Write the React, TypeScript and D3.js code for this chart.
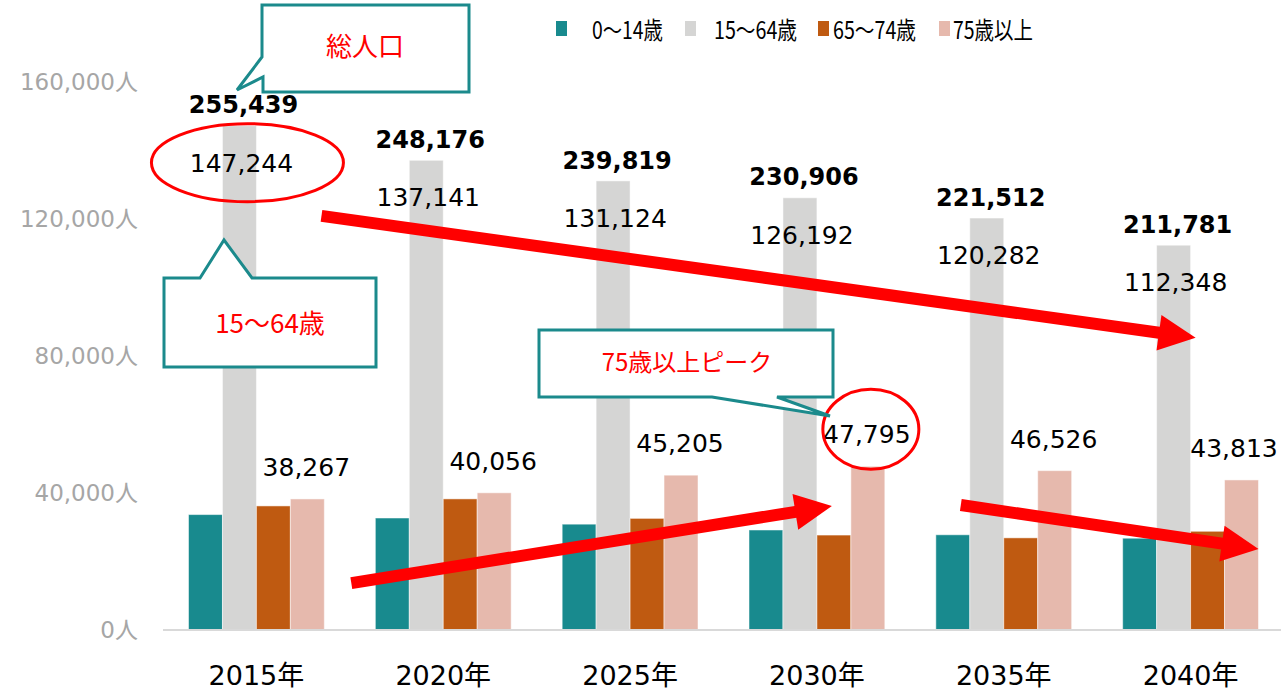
import React from "react";
import * as d3 from "d3";

const categories = ["2015年", "2020年", "2025年", "2030年", "2035年", "2040年"];
const seriesNames = ["0～14歳", "15～64歳", "65～74歳", "75歳以上"];
const age0_14 = [33700, 32700, 30900, 29200, 27800, 26800];
const age15_64 = [147244, 137141, 131124, 126192, 120282, 112348];
const age65_74 = [36228, 38279, 32590, 27719, 26904, 28820];
const age75plus = [38267, 40056, 45205, 47795, 46526, 43813];
const totals = [255439, 248176, 239819, 230906, 221512, 211781];
const yTicks = [0, 40000, 80000, 120000, 160000];

const colors = ["#188a8e", "#d5d5d4", "#bf5a11", "#e6b9ad"];
const W = 1281;
const H = 691;
const numFont = "'DejaVu Sans', 'Noto Sans CJK JP', sans-serif";
const jpFont = "'Noto Sans CJK JP', sans-serif";

export default function App() {
  const series = [age0_14, age15_64, age65_74, age75plus];
  const x = d3.scaleBand<string>().domain(categories).range([163, 1284]).paddingInner(0.273).paddingOuter(0.1365);
  const xs = d3.scaleBand<number>().domain([0, 1, 2, 3]).range([0, x.bandwidth()]);
  const y = d3.scaleLinear().domain([0, 160000]).range([630, 82]);
  const fmt = d3.format(",");

  const cx = (i: number, s: number) => (x(categories[i]) as number) + (xs(s) as number) + xs.bandwidth() / 2;

  const arrow = (x1: number, y1: number, x2: number, y2: number, key: string) => {
    const dx = x2 - x1, dy = y2 - y1;
    const len = Math.hypot(dx, dy);
    const ux = dx / len, uy = dy / len;
    const L = 37, hw = 18;
    const bx = x2 - ux * L, by = y2 - uy * L;
    const p1 = [bx - uy * hw, by + ux * hw];
    const p2 = [bx + uy * hw, by - ux * hw];
    return (
      <g key={key}>
        <line x1={x1} y1={y1} x2={bx + ux * 2} y2={by + uy * 2} stroke="#ff0000" strokeWidth={12} />
        <polygon points={`${x2},${y2} ${p1[0]},${p1[1]} ${p2[0]},${p2[1]}`} fill="#ff0000" />
      </g>
    );
  };

  const legendSquareX = [556, 685, 818, 939];
  const legendTextX = [592, 714, 833, 953];
  const legendTextW = [71, 83, 83, 80];

  const teal = "#1b8a8c";

  return (
    <svg width={W} height={H} style={{ position: "absolute", left: 0, top: 0, background: "#fff" }}>
      {/* y axis ticks */}
      {yTicks.map((t) => (
        <text key={t} x={138} y={y(t)} dy="0.36em" textAnchor="end" fontFamily={numFont} fontSize={23} fill="#a6a6a6">
          {fmt(t)}人
        </text>
      ))}
      {/* bars */}
      {series.map((vals, s) =>
        vals.map((v, i) => (
          <rect
            key={`${s}-${i}`}
            x={(x(categories[i]) as number) + (xs(s) as number)}
            y={y(v)}
            width={xs.bandwidth()}
            height={y(0) - y(v)}
            fill={colors[s]}
            stroke="#ffffff"
            strokeOpacity={0.5}
            strokeWidth={1}
          />
        ))
      )}
      {/* axis line */}
      <line x1={163} x2={1281} y1={y(0)} y2={y(0)} stroke="#d9d9d9" strokeWidth={2} />
      {/* x labels */}
      {categories.map((c) => (
        <text key={c} x={(x(c) as number) + x.bandwidth() / 2} y={675} dy="0.36em" textAnchor="middle" fontFamily={numFont} fontSize={27} fill="#000">
          {c}
        </text>
      ))}
      {/* 15-64 labels */}
      {age15_64.map((v, i) => (
        <text key={`g${i}`} x={cx(i, 1) + 2} y={y(v) + 37} dy="0.36em" textAnchor="middle" fontFamily={numFont} fontSize={25} fill="#000">
          {fmt(v)}
        </text>
      ))}
      {/* 75+ labels */}
      {age75plus.map((v, i) => (
        <text key={`p${i}`} x={Math.min(cx(i, 3) - 1, 1234)} y={y(v) - 32} dy="0.36em" textAnchor="middle" fontFamily={numFont} fontSize={25} fill="#000">
          {fmt(v)}
        </text>
      ))}
      {/* totals */}
      {totals.map((v, i) => (
        <text key={`t${i}`} x={cx(i, 1) + 4} y={y(age15_64[i]) - 21} dy="0.36em" textAnchor="middle" fontFamily={numFont} fontSize={24} fontWeight="bold" fill="#000">
          {fmt(v)}
        </text>
      ))}
      {/* legend */}
      {seriesNames.map((n, s) => (
        <g key={n}>
          <rect x={legendSquareX[s]} y={21} width={11} height={15} fill={colors[s]} />
          <text x={legendTextX[s]} y={30} dy="0.36em" fontFamily={jpFont} fontSize={24} fill="#000" textLength={legendTextW[s]} lengthAdjust="spacingAndGlyphs">
            {n}
          </text>
        </g>
      ))}
      {/* arrows */}
      {arrow(cx(0, 0) + 116, y(120900), cx(5, 1) + 22, y(85300), "a1")}
      {arrow(cx(1, 0) - 41, y(13700), cx(3, 2) - 2, y(36200), "a2")}
      {arrow(cx(4, 0) + 8, y(36500), cx(5, 3) + 17, y(23650), "a3")}
      {/* ellipses */}
      <ellipse cx={cx(0, 1) + 8} cy={y(age15_64[0]) + 37} rx={96} ry={39} fill="none" stroke="#ff0000" strokeWidth={3} />
      <ellipse cx={cx(3, 3) + 3} cy={y(age75plus[3]) - 37} rx={48} ry={40} fill="none" stroke="#ff0000" strokeWidth={3} />
      {/* callouts */}
      <path d="M262,5 H469 V92 H263 V77 L237,90 L262,57 Z" fill="#fff" stroke={teal} strokeWidth={3} strokeLinejoin="miter" />
      <text x={365} y={47} dy="0.36em" textAnchor="middle" fontFamily={jpFont} fontSize={26} fill="#ff0000">総人口</text>
      <path d="M164,278 H200 L224,240 L252,278 H376 V367 H164 Z" fill="#fff" stroke={teal} strokeWidth={3} />
      <text x={270} y={324} dy="0.36em" textAnchor="middle" fontFamily={jpFont} fontSize={26} fill="#ff0000">15～64歳</text>
      <path d="M539,330 H833 V397 H777 L830,416 L712,397 H539 Z" fill="#fff" stroke={teal} strokeWidth={3} />
      <text x={687} y={362} dy="0.36em" textAnchor="middle" fontFamily={jpFont} fontSize={24} fill="#ff0000">75歳以上ピーク</text>
    </svg>
  );
}
